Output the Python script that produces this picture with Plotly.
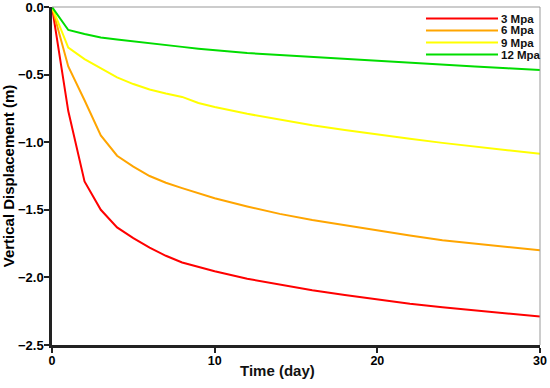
import plotly.graph_objects as go

days = [0, 1, 2, 3, 4, 5, 6, 7, 8, 9, 10, 12, 14, 16, 18, 20, 22, 24, 26, 28, 30]
mpa3 = [0, -0.77, -1.29, -1.50, -1.63, -1.71, -1.78, -1.84, -1.89, -1.925, -1.955,
        -2.01, -2.055, -2.095, -2.13, -2.165, -2.195, -2.22, -2.245, -2.27, -2.29]
mpa6 = [0, -0.44, -0.69, -0.95, -1.10, -1.18, -1.25, -1.30, -1.34, -1.38, -1.415,
        -1.475, -1.53, -1.575, -1.615, -1.655, -1.69, -1.725, -1.75, -1.775, -1.80]
mpa9 = [0, -0.30, -0.385, -0.455, -0.52, -0.57, -0.61, -0.64, -0.665, -0.71, -0.74,
        -0.79, -0.835, -0.875, -0.91, -0.945, -0.975, -1.005, -1.035, -1.06, -1.085]
mpa12 = [0, -0.17, -0.20, -0.225, -0.24, -0.255, -0.27, -0.283, -0.295, -0.308, -0.32,
         -0.34, -0.355, -0.37, -0.385, -0.40, -0.415, -0.428, -0.44, -0.453, -0.466]

names = ["3 Mpa", "6 Mpa", "9 Mpa", "12 Mpa"]
series = [mpa3, mpa6, mpa9, mpa12]
colors = ["#ff0000", "#ffa500", "#ffff00", "#00dd00"]
x_title = "Time (day)"
y_title = "Vertical Displacement (m)"

W, H = 550, 388
ML, MR, MT, MB = 52, 10, 7, 43
PW, PH = W - ML - MR, H - MT - MB

fig = go.Figure()
for n, s, c in zip(names, series, colors):
    fig.add_trace(go.Scatter(x=days, y=s, mode="lines", name=n,
                             line=dict(color=c, width=2), showlegend=False))

font = "Liberation Sans, Arial, sans-serif"

shapes = [
    dict(type="line", xref="paper", yref="paper", x0=0, x1=1, y0=1, y1=1,
         line=dict(color="#999", width=1)),
    dict(type="line", xref="paper", yref="paper", x0=1, x1=1, y0=0, y1=1,
         line=dict(color="#999", width=1)),
]
annotations = []
# compact legend, top right inside the plot
lx0, lx1, tx = (426 - ML) / PW, (498 - ML) / PW, (499 - ML) / PW
for i, (n, c) in enumerate(zip(names, colors)):
    yp = 1 - (18.5 + 12 * i - MT) / PH
    shapes.append(dict(type="line", xref="paper", yref="paper", x0=lx0, x1=lx1,
                       y0=yp, y1=yp, line=dict(color=c, width=2)))
    annotations.append(dict(xref="paper", yref="paper", x=tx, y=yp, text=n,
                            showarrow=False, xanchor="left", yanchor="middle",
                            font=dict(size=11.5, family=font, weight="bold", color="#111")))
# x axis title (sits slightly left of centre in the reference)
annotations.append(dict(xref="paper", yref="paper", x=(277 - ML) / PW,
                        y=-(370 - (H - MB)) / PH, text=x_title, showarrow=False,
                        xanchor="center", yanchor="middle",
                        font=dict(size=15, family=font, weight="bold", color="#111")))

fig.update_layout(
    width=W, height=H,
    margin=dict(l=ML, r=MR, t=MT, b=MB),
    paper_bgcolor="white", plot_bgcolor="white",
    font=dict(family=font, color="black"),
    showlegend=False,
    hovermode=False,
    xaxis=dict(range=[0, 30], tickvals=[0, 10, 20, 30], showgrid=False, zeroline=False,
               automargin=False, ticklabeloverflow="allow",
               showline=True, linecolor="#222", linewidth=2.5,
               ticks="outside", ticklen=5, tickwidth=2, tickcolor="#222",
               ticklabelstandoff=-3,
               tickfont=dict(size=12.5, family=font, weight="bold")),
    yaxis=dict(range=[-2.5, 0], tickvals=[0, -0.5, -1.0, -1.5, -2.0, -2.5], tickformat=".1f",
               showgrid=False, zeroline=False, automargin=False, ticklabeloverflow="allow",
               showline=True, linecolor="#222", linewidth=2.5,
               ticks="outside", ticklen=5, tickwidth=2, tickcolor="#222",
               ticklabelstandoff=-2,
               tickfont=dict(size=13, family=font, weight="bold"),
               title=dict(text=y_title,
                          font=dict(size=15, family=font, weight="bold"), standoff=3)),
    shapes=shapes,
    annotations=annotations,
)

fig.write_html("out.html", config={"displayModeBar": False},
               post_script="document.body.style.margin='0px';")
